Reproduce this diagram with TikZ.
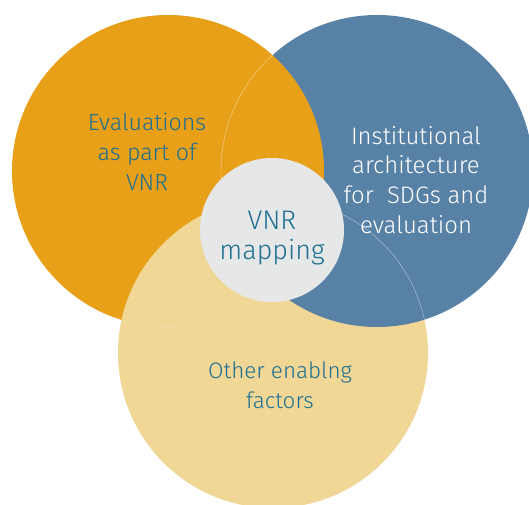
\documentclass[tikz,border=0pt]{standalone}
\usepackage{fontspec}
\setmainfont{Fira Sans Light}
\definecolor{vorange}{HTML}{E8A019}
\definecolor{vblue}{HTML}{5881A6}
\definecolor{vyellow}{HTML}{F0D796}
\definecolor{vgray}{HTML}{E6E7E7}
\definecolor{vteal}{HTML}{1C6F93}
\tikzset{
  faint/.style={draw=white, draw opacity=0.55, line width=0.4pt},
  lbl/.style={align=center, inner sep=0pt},
}
\begin{document}
\begin{tikzpicture}[x=1bp,y=-1bp]
\useasboundingbox (0,0) rectangle (529,505);
\coordinate (co) at (168,171);
\coordinate (cb) at (377,171);
\coordinate (cy) at (273,353);
% fills
\fill[vyellow] (cy) circle[radius=155];
\fill[vblue] (cb) circle[radius=156];
\fill[vorange] (co) circle[radius=156];
\begin{scope}
  \clip (co) circle[radius=156];
  \fill[vyellow] (cy) circle[radius=155];
\end{scope}
% faint outlines showing through
\begin{scope}
  \clip (co) circle[radius=156];
  \draw[faint] (cb) circle[radius=156];
\end{scope}
\begin{scope}
  \clip (cy) circle[radius=155];
  \draw[faint] (co) circle[radius=156];
\end{scope}
\begin{scope}
  \clip (cb) circle[radius=156];
  \draw[faint] (cy) circle[radius=155];
\end{scope}
% centre
\node[circle, fill=vgray, minimum size=144bp, inner sep=0pt] (core) at (272,230) {};
% labels
\node[lbl, text=vteal, font=\fontsize{23.3}{30}\selectfont] (eval) at (147,152)
  {Evaluations\\as part of\\VNR};
\node[lbl, text=white, font=\fontsize{24}{30}\selectfont] (inst) at (416,180)
  {Institutional\\architecture\\for\ \ SDGs and\\evaluation};
\node[lbl, text=vteal, font=\fontsize{27}{30}\selectfont] (vnr) at (272,238)
  {VNR\\mapping};
\node[lbl, text=vteal, font=\fontsize{22.5}{30}\selectfont] (other) at (280,385)
  {Other enablng\\factors};
\end{tikzpicture}
\end{document}
